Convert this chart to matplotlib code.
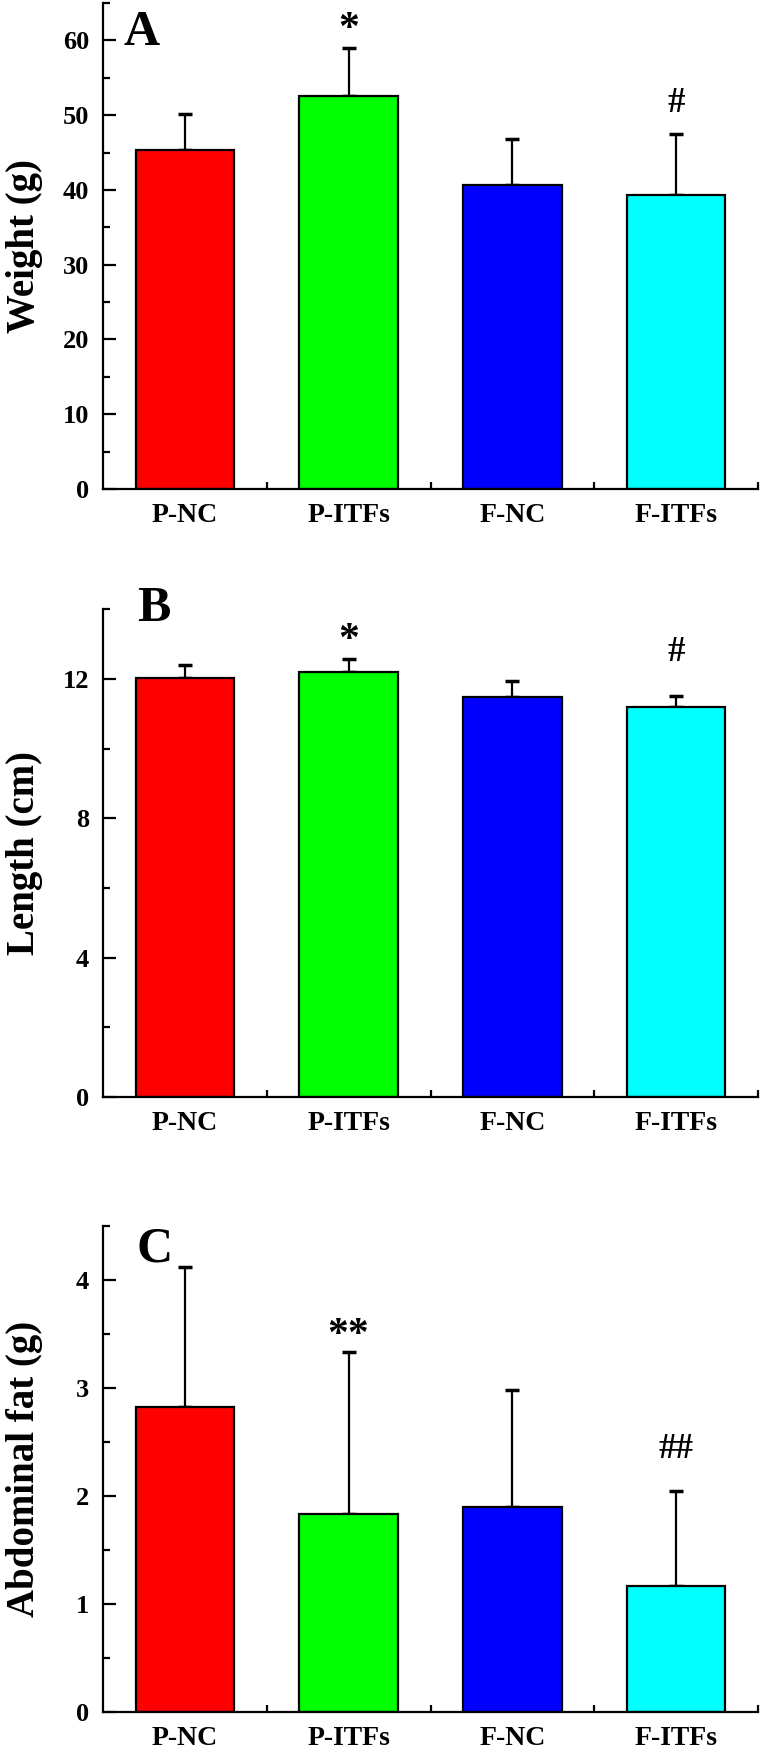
import matplotlib
matplotlib.use('Agg')
import matplotlib.pyplot as plt
from matplotlib.ticker import MultipleLocator, FixedLocator
import numpy as np

plt.rcParams['font.family'] = ['Liberation Serif', 'DejaVu Serif']
plt.rcParams['font.weight'] = 'bold'

groups = ['P-NC', 'P-ITFs', 'F-NC', 'F-ITFs']
colors = ['#FF0000', '#00FF00', '#0000FF', '#00FFFF']

weight_mean = [45.3, 52.6, 40.6, 39.3]
weight_top = [50.2, 59.0, 46.8, 47.5]     # mean + SD
length_mean = [12.02, 12.2, 11.49, 11.2]
length_top = [12.41, 12.56, 11.93, 11.5]
fat_mean = [2.82, 1.83, 1.90, 1.17]
fat_top = [4.12, 3.33, 2.98, 2.05]

# significance marks: (group index, text, y)
weight_sig = [(1, '*', 63.3), (3, '#', 51.5)]
length_sig = [(1, '*', 13.5), (3, '#', 12.77)]
fat_sig = [(1, '**', 3.61), (3, '##', 2.43)]

panels = [
    dict(mean=weight_mean, top=weight_top, sig=weight_sig, ylim=65, major=10, minor=5,
         ylabel='Weight (g)', letter='A', lpos=(0.031, 0.914), box=(0.7212, 0.2771)),
    dict(mean=length_mean, top=length_top, sig=length_sig, ylim=14, major=4, minor=2,
         ylabel='Length (cm)', letter='B', lpos=(0.052, 0.976), box=(0.3747, 0.2779)),
    dict(mean=fat_mean, top=fat_top, sig=fat_sig, ylim=4.5, major=1, minor=0.5,
         ylabel='Abdominal fat (g)', letter='C', lpos=(0.052, 0.927), box=(0.0238, 0.2773)),
]

fig = plt.figure(figsize=(7.62, 17.54), dpi=100)
x = np.arange(1, len(groups) + 1)

for p in panels:
    ax = fig.add_axes([0.135, p['box'][0], 0.86, p['box'][1]])
    mean = np.array(p['mean'])
    err = np.array(p['top']) - mean
    ax.bar(x, mean, width=0.6, color=colors, edgecolor='black', linewidth=1.6, zorder=2)
    ax.errorbar(x, mean, yerr=[np.zeros_like(err), err], fmt='none', ecolor='black',
                elinewidth=1.6, capsize=5, capthick=2.5, zorder=1)
    for i, s, yy in p['sig']:
        if '*' in s:
            # asterisk glyph sits high, shift it down
            ax.annotate(s, (x[i], yy), xytext=(0, -10), textcoords='offset points',
                        ha='center', va='center', fontsize=30, fontweight='bold')
        else:
            ax.text(x[i], yy, s, ha='center', va='center', fontsize=25, fontweight='bold')
    ax.text(p['lpos'][0], p['lpos'][1], p['letter'], transform=ax.transAxes,
            ha='left', va='baseline', fontsize=36, fontweight='bold')

    ax.set_xlim(0.5, 4.5)
    ax.set_ylim(0, p['ylim'])
    ax.set_xticks(x)
    ax.set_xticklabels(groups)
    ax.xaxis.set_minor_locator(FixedLocator([1.5, 2.5, 3.5, 4.5]))
    ax.yaxis.set_major_locator(MultipleLocator(p['major']))
    ax.yaxis.set_minor_locator(MultipleLocator(p['minor']))
    ax.set_ylabel(p['ylabel'], fontsize=28, fontweight='bold')
    ax.yaxis.set_label_coords(-0.092, 0.5)

    for side in ['top', 'right']:
        ax.spines[side].set_visible(False)
    for side in ['left', 'bottom']:
        ax.spines[side].set_linewidth(1.6)
    ax.tick_params(which='major', direction='in', length=9, width=1.6, pad=10)
    ax.tick_params(which='minor', direction='in', length=5, width=1.6)
    ax.tick_params(axis='x', which='major', labelsize=20)
    ax.tick_params(axis='y', which='major', labelsize=19)
    for lab in ax.get_xticklabels() + ax.get_yticklabels():
        lab.set_fontweight('bold')

fig.savefig('out.png', dpi=100)
